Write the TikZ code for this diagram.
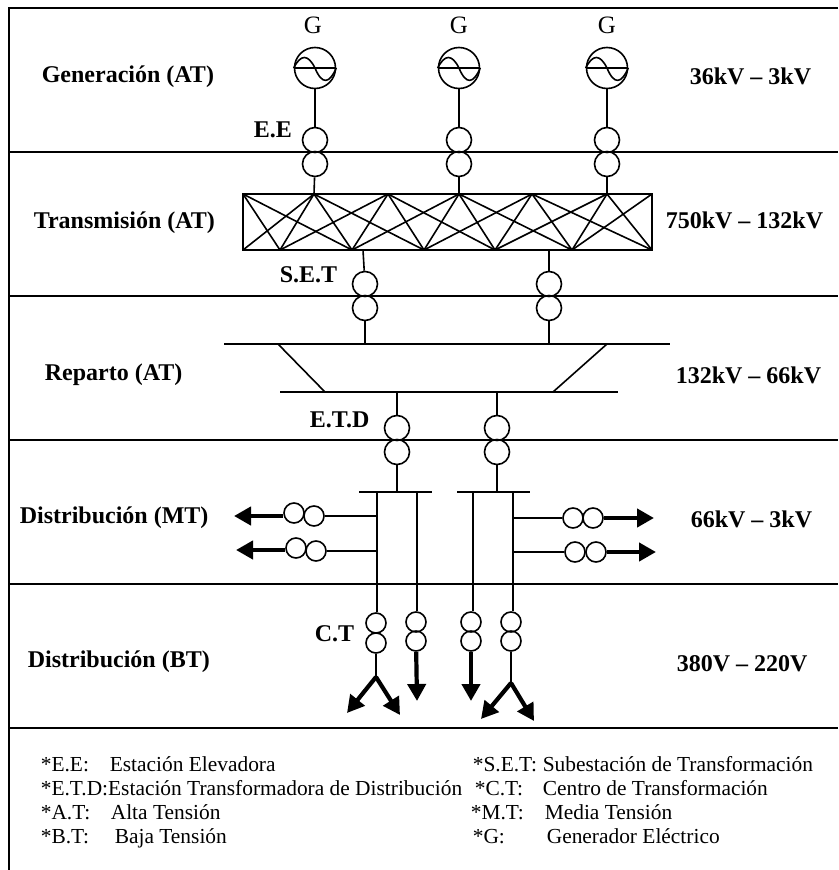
\documentclass[tikz,border=0pt]{standalone}
\usepackage{fontspec}
\setmainfont{Liberation Serif}
\usetikzlibrary{%
  arrows.meta,%
  positioning,%
  calc%
}

\begin{document}
\begin{tikzpicture}
  [
  x=1pt, y=-1pt,
  line width=1.6pt,
  gennode/.style={circle, inner sep = 0pt, minimum size = 41pt, draw=black},
  trafonode/.style={circle, inner sep = 0pt, minimum size = 25pt, draw=black},
  ctnode/.style={circle, inner sep = 0pt, minimum size = 20pt, draw=black},
  sidenode/.style={circle, inner sep = 0pt, minimum size = 20pt, draw=black},
  secname/.style={anchor=base west, inner sep=0pt, font=\fontsize{24}{28}\selectfont\bfseries},
  symname/.style={anchor=base, inner sep=0pt, font=\fontsize{25}{28}\selectfont},
  legend/.style={anchor=base west, inner sep=0pt, font=\fontsize{21.4}{26}\selectfont},
  loadarrow/.style={-{Triangle[length=17pt,width=18pt]}, line width=4.2pt},
  ]

  \useasboundingbox (0,0) rectangle (838,870);

  % frame and rows
  \draw[line width=1.8pt] (838,8) -- (9,8) -- (9,870);
  \foreach \y in {152,296,440,584} {
    \draw[line width=1.8pt] (9,\y) -- (838,\y);
  }
  \draw[line width=2.4pt] (9,728) -- (838,728);

  % row names
  \node[secname] (genname) at (41,82) {Generación (AT)};
  \node[secname] (traname) at (33,228) {Transmisión (AT)};
  \node[secname] (repname) at (44,380) {Reparto (AT)};
  \node[secname] (mtname) at (19,523) {Distribución (MT)};
  \node[secname] (btname) at (27,667) {Distribución (BT)};

  \node[secname] (genkv) at (689,84) {36kV – 3kV};
  \node[secname] (trakv) at (665,228) {750kV – 132kV};
  \node[secname] (repkv) at (675,383) {132kV – 66kV};
  \node[secname] (mtkv) at (690,527) {66kV – 3kV};
  \node[secname] (btkv) at (676,671) {380V – 220V};

  \node[secname] (eelabel) at (253,137) {E.E};
  \node[secname] (setlabel) at (279,282) {S.E.T};
  \node[secname] (etdlabel) at (309,427) {E.T.D};
  \node[secname] (ctlabel) at (314,641) {C.T};

  % lattice
  \foreach \n/\x in {0/243,1/314,2/388,3/459,4/532,5/607,6/652} {
    \coordinate (t\n) at (\x,194);
  }
  \foreach \n/\x in {0/243,1/280,2/352,3/424,4/495,5/572,6/652} {
    \coordinate (b\n) at (\x,250);
  }
  \draw (t0) -- (t6) -- (b6) -- (b0) -- cycle;
  \foreach \a/\b in {0/1,0/2,1/0,1/1,1/2,1/3,2/1,2/2,2/3,2/4,3/2,3/3,3/4,3/5,4/3,4/4,4/5,4/6,5/4,5/5,5/6,6/5} {
    \draw (t\a) -- (b\b);
  }

  % generators
  \foreach \n/\x/\gx/\t in {1/315/313/1,2/459/459/3,3/607/607/5} {
    \node[gennode] (g\n) at (\x,68) {};
    \node[symname] (glabel\n) at (\gx,33) {G};
    \node[trafonode] (ee\n) at (\x,140) {};
    \node[trafonode] (el\n) at (\x,164) {};
    \draw (g\n.west) -- (g\n.east);
    \draw (g\n.west) .. controls +(7,-14) and +(-7,-14) .. (g\n.center)
      .. controls +(7,17) and +(-7,16) .. (g\n.east);
    \draw (g\n) -- (ee\n);
    \draw (el\n) -- (t\t);
  }

  % S.E.T and buses
  \coordinate (lat1) at (363,250);
  \coordinate (lat2) at (549,250);
  \coordinate (busa1) at (224,344);
  \coordinate (busa2) at (670,344);
  \coordinate (busb1) at (280,392);
  \coordinate (busb2) at (618,392);
  \draw (busa1) -- (busa2);
  \draw (busb1) -- (busb2);
  \draw (278,344) -- (325,392);
  \draw (607,344) -- (553,392);

  \foreach \n/\x in {1/365,2/549} {
    \node[trafonode] (sa\n) at (\x,284) {};
    \node[trafonode] (sb\n) at (\x,308) {};
    \coordinate (sbus\n) at (\x,344);
    \draw (lat\n) -- (sa\n);
    \draw (sb\n) -- (sbus\n);
  }

  % E.T.D and distribution bars
  \foreach \n/\x/\l/\r in {1/397/359/432,2/497/457/530} {
    \coordinate (dtop\n) at (\x,392);
    \coordinate (dbar\n) at (\x,492);
    \node[trafonode] (da\n) at (\x,428) {};
    \node[trafonode] (db\n) at (\x,452) {};
    \draw (\l,492) -- (\r,492);
    \draw (dtop\n) -- (da\n);
    \draw (db\n) -- (dbar\n);
  }

  % C.T feeders
  \foreach \n/\x/\c/\ya/\yb in {1/377/376/623/643,2/417/416/622/641,3/473/471/622/641,4/513/511/622/641} {
    \coordinate (ftop\n) at (\x,492);
    \node[ctnode] (ca\n) at (\c,\ya) {};
    \node[ctnode] (cb\n) at (\c,\yb) {};
    \draw (ftop\n) -- (ca\n.north -| ftop\n);
  }

  \coordinate (fork1) at (376,677);
  \coordinate (fork4) at (511,683);
  \draw (cb1) -- (fork1);
  \draw (cb4) -- (fork4);
  \coordinate (end1a) at (347,713);
  \coordinate (end1b) at (400,715);
  \coordinate (end2) at (417,701);
  \coordinate (end3) at (471,701);
  \coordinate (end4a) at (481,719);
  \coordinate (end4b) at (534,721);
  \draw[loadarrow] (fork1) -- (end1a);
  \draw[loadarrow] (fork1) -- (end1b);
  \draw[loadarrow] (cb2) -- (end2);
  \draw[loadarrow] (cb3) -- (end3);
  \draw[loadarrow] (fork4) -- (end4a);
  \draw[loadarrow] (fork4) -- (end4b);

  % M.T outputs
  \node[sidenode] (la1) at (294,513) {};
  \node[sidenode] (lb1) at (314,516) {};
  \node[sidenode] (la2) at (296,548) {};
  \node[sidenode] (lb2) at (316,551) {};
  \node[sidenode] (ra1) at (573,518) {};
  \node[sidenode] (rb1) at (593,518) {};
  \node[sidenode] (ra2) at (575,552) {};
  \node[sidenode] (rb2) at (596,552) {};

  \coordinate (lend1) at (234,516);
  \coordinate (lend2) at (236,550);
  \draw (lb1) -- (377,516);
  \draw (lb2) -- (377,551);
  \draw (ra1) -- (513,518);
  \draw (ra2) -- (513,552);

  \draw[loadarrow] (la1.west |- lend1) -- (lend1);
  \draw[loadarrow] (la2.west |- lend2) -- (lend2);
  \draw[loadarrow] (rb1) -- (654,518);
  \draw[loadarrow] (rb2) -- (656,552);

  % legend
  \node[legend] (kee) at (40,771) {*E.E:};
  \node[legend] (vee) at (109,771) {Estación Elevadora};
  \node[legend] (ketd) at (40,795) {*E.T.D:Estación Transformadora de Distribución};
  \node[legend] (kat) at (40,819) {*A.T:};
  \node[legend] (vat) at (110,819) {Alta Tensión};
  \node[legend] (kbt) at (40,843) {*B.T:};
  \node[legend] (vbt) at (114,843) {Baja Tensión};

  \node[legend] (kset) at (472,771) {*S.E.T:};
  \node[legend] (vset) at (542,771) {Subestación de Transformación};
  \node[legend] (kct) at (474,795) {*C.T:};
  \node[legend] (vct) at (542,795) {Centro de Transformación};
  \node[legend] (kmt) at (470,819) {*M.T:};
  \node[legend] (vmt) at (544,819) {Media Tensión};
  \node[legend] (kg) at (472,843) {*G:};
  \node[legend] (vg) at (546,843) {Generador Eléctrico};

\end{tikzpicture}
\end{document}
